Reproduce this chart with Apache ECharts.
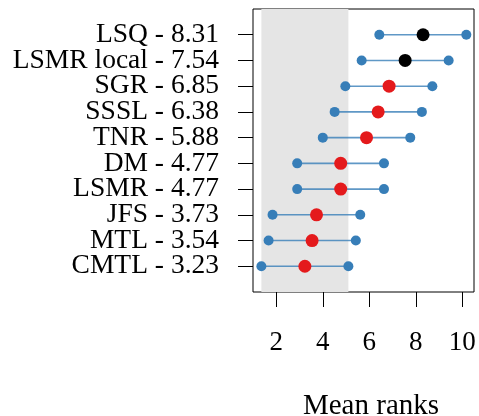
<!DOCTYPE html>
<html>
<head>
<meta charset="utf-8">
<script src="https://cdn.jsdelivr.net/npm/echarts@6/dist/echarts.min.js"></script>
<style>
    html, body { margin: 0; padding: 0; background: #fff; }
    #chart { width: 479px; height: 416px; }
</style>
</head>
<body>
<div id="chart"></div>
<script>
// Mean ranks with critical-difference intervals

const methods = ['LSQ', 'LSMR local', 'SGR', 'SSSL', 'TNR', 'DM', 'LSMR', 'JFS', 'MTL', 'CMTL'];
const meanRanks = [8.31, 7.54, 6.85, 6.38, 5.88, 4.77, 4.77, 3.73, 3.54, 3.23];
const lowerBounds = [6.43, 5.67, 4.97, 4.51, 4.00, 2.90, 2.90, 1.84, 1.67, 1.36];
const upperBounds = [10.17, 9.41, 8.71, 8.26, 7.76, 6.63, 6.63, 5.61, 5.42, 5.10];
const bestGroup = ['LSQ', 'LSMR local'];
const xTicks = [2, 4, 6, 8, 10];
const bandRange = [1.36, 5.10];

const font = '"Liberation Serif", "DejaVu Serif", serif';
const red = '#E41A1C';
const blue = '#377EB8';

// one empty slot above and below the rows, like the original plot margins
const yCats = [''].concat(methods.map((m, i) => m + ' - ' + meanRanks[i].toFixed(2)), ['']);

const chart = echarts.init(document.getElementById('chart'), null, { renderer: 'canvas' });

chart.setOption({
    animation: false,
    grid: {
        left: 253, top: 9, right: 5, bottom: 124,
        outerBoundsMode: 'none',
        show: true, borderColor: '#000', borderWidth: 1, backgroundColor: 'transparent'
    },
    xAxis: {
        type: 'value', min: 1, max: 10.5,
        name: 'Mean ranks', nameLocation: 'middle', nameGap: 100,
        nameTextStyle: { fontFamily: font, fontSize: 29, color: '#000', padding: [0, 0, 0, 15] },
        axisLine: { show: false },
        axisTick: { show: true, customValues: xTicks, length: 15, lineStyle: { color: '#000', width: 1 } },
        axisLabel: { customValues: xTicks, margin: 37, fontFamily: font, fontSize: 27, color: '#000' },
        splitLine: { show: false }
    },
    yAxis: {
        type: 'category', data: yCats, boundaryGap: false, inverse: true,
        axisLine: { show: false },
        axisTick: {
            show: true, length: 15, lineStyle: { color: '#000', width: 1 },
            interval: (idx, val) => val !== ''
        },
        axisLabel: {
            margin: 34, fontFamily: font, fontSize: 27.5, color: '#000',
            interval: 0
        },
        splitLine: { show: false }
    },
    series: [
        {
            type: 'scatter', data: [], z: 0, silent: true,
            markArea: {
                silent: true,
                itemStyle: { color: '#E5E5E5' },
                data: [[{ xAxis: bandRange[0] }, { xAxis: bandRange[1] }]]
            }
        },
        {
            type: 'custom', z: 2, silent: true,
            data: methods.map((m, i) => [lowerBounds[i], upperBounds[i], i + 1]),
            renderItem: (params, api) => {
                const a = api.coord([api.value(0), api.value(2)]);
                const b = api.coord([api.value(1), api.value(2)]);
                return {
                    type: 'line',
                    shape: { x1: a[0], y1: a[1], x2: b[0], y2: b[1] },
                    style: { stroke: blue, lineWidth: 1.6, opacity: 0.8 }
                };
            }
        },
        {
            type: 'scatter', z: 3, symbolSize: 10,
            itemStyle: { color: blue, opacity: 1 },
            data: methods.flatMap((m, i) => [[lowerBounds[i], i + 1], [upperBounds[i], i + 1]])
        },
        {
            type: 'scatter', z: 4, symbolSize: 13,
            data: methods.map((m, i) => ({
                value: [meanRanks[i], i + 1],
                itemStyle: { color: bestGroup.includes(m) ? '#000' : red, opacity: 1 }
            }))
        }
    ]
});
</script>
</body>
</html>
